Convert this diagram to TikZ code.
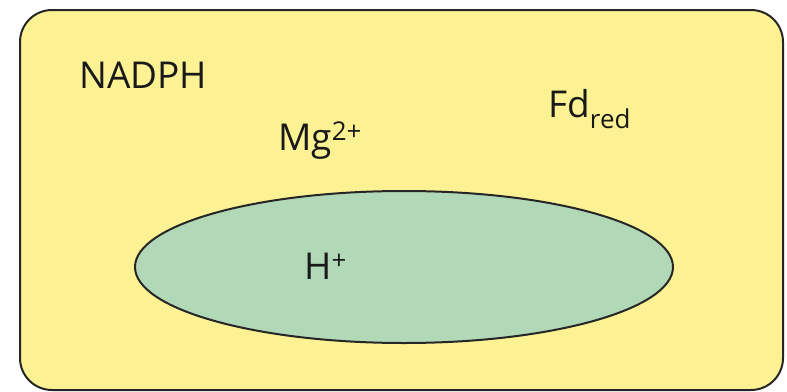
\documentclass[tikz,border=0pt]{standalone}
\usepackage{fontspec}
\setmainfont{Open Sans}
\definecolor{boxyellow}{HTML}{FCF193}
\definecolor{ellgreen}{HTML}{B1D9B8}
\tikzset{
  lbl/.style={anchor=base west, inner sep=0pt, font=\fontsize{37}{42}\selectfont, text=black!90},
  outerbox/.style={draw=black!85, line width=2pt, fill=boxyellow, rounded corners=32pt},
  inner/.style={draw=black!85, line width=2pt, fill=ellgreen}
}
\begin{document}
\begin{tikzpicture}[x=1pt,y=-1pt]
\useasboundingbox (0,0) rectangle (787,391);
\draw[outerbox] (20,10) rectangle (783,390);
\draw[inner] (404,267) ellipse [x radius=269, y radius=76];
\node[lbl] (nadph) at (79,88) {NADPH};
\node[lbl] (mg) at (278,150) {Mg\textsuperscript{2+}};
\node[lbl] (fd) at (548,117) {Fd\textsubscript{red}};
\node[lbl] (h) at (304,279) {H\textsuperscript{+}};
\end{tikzpicture}
\end{document}
